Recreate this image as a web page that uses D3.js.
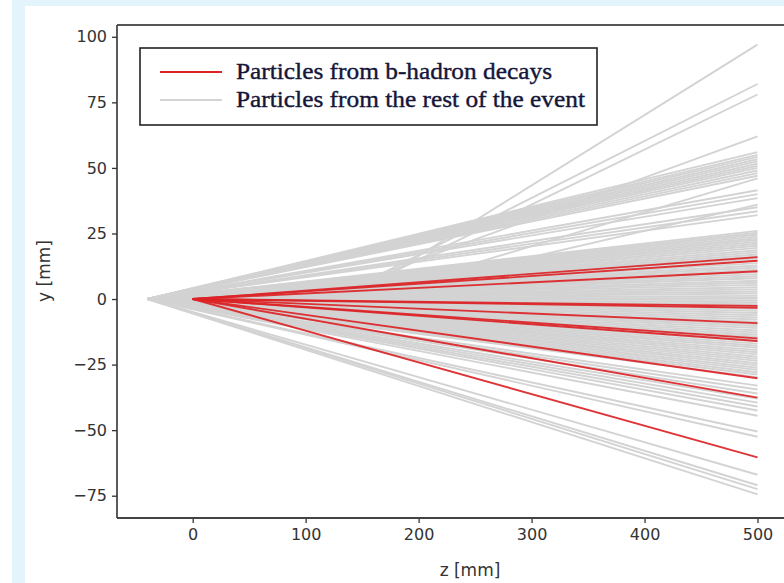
<!DOCTYPE html>
<html><head><meta charset="utf-8">
<script src="https://cdn.jsdelivr.net/npm/d3@7"></script>
<style>
html,body{margin:0;padding:0;background:#e4f4fc;}
svg{display:block;}
</style></head>
<body>
<svg id="chart" width="784" height="583"></svg>
<script>
// ---- data ----
const primaryZ = -40;          // origin of gray tracks (primary vertex)
const primaryY = 0;
const decayZ = 0;              // origin of red tracks (b-hadron decay vertex)
const decayY = 0;
const endZ = 500;              // tracks stop at z = 500 mm

// y at z=500 for gray tracks coming from the primary vertex
const grayEndY = [56, 55, 54.2, 53.3, 52.5, 51.6, 50.8, 50, 49, 48, 47,
  41.5, 40, 38.5, 35, 33.5, 32,
  26, 25.3, 24.6, 23.9, 23.2, 22.5, 21.8, 21.1, 20.3, 19.5, 18.6, 17.8, 17, 16.2, 15.4, 14.6, 13.7, 12.8, 12, 11.2,
  10.3, 9.5, 8.7, 7.9, 7, 6.2, 5.4, 4.5, 3.7, 2.9, 2.1, 1.2, 0.4, -0.4, -1.2, -2, -2.9, -3.7, -4.5, -5.3, -6.2, -7,
  -7.8, -8.6, -9.5, -10.3, -11.1, -12, -12.8, -13.6, -14.4, -15.3, -16.1, -17, -17.8, -18.6, -19.5, -20.3, -21.1,
  -22, -22.8, -23.6, -24.5, -25.3, -26.2, -27, -27.9, -28.8, -29.8,
  -33, -34.5, -36, -38, -39.5, -41, -42.5, -44.5, -50.5, -52.5, -67, -71, -72.5, -74.5];

// gray tracks from other vertices: start z, start y, y at z=500
const extraStartZ = [146, 132, 138, 112, 175, 200];
const extraStartY = [2, 2, 2, 1, 4, 6];
const extraEndY   = [97, 82, 78, 62, 46, 36];

// y at z=500 for red tracks from the b-hadron decay vertex
const redEndY = [16, 14.6, 10.6, -2.6, -3.3, -9.2, -15, -16, -30.2, -37.6, -60.4];

const xTicks = [0, 100, 200, 300, 400, 500];
const yTicks = [-75, -50, -25, 0, 25, 50, 75, 100];
const legendLabels = ["Particles from b-hadron decays", "Particles from the rest of the event"];
const xTitle = "z [mm]";
const yTitle = "y [mm]";

// ---- drawing ----
const svg = d3.select("#chart");
svg.append("rect").attr("x", 0).attr("y", 0).attr("width", 12).attr("height", 583).attr("fill", "#ffffff");
svg.append("rect").attr("x", 25).attr("y", 6).attr("width", 760).attr("height", 580).attr("fill", "#ffffff");

const L = 117, R = 788, T = 25, B = 518;
const x = d3.scaleLinear().domain([-67, 527]).range([L, R]);
const y = d3.scaleLinear().domain([-83.5, 104.5]).range([B, T]);

svg.append("clipPath").attr("id", "plotclip").append("rect")
  .attr("x", L).attr("y", T).attr("width", R - L).attr("height", B - T);

const line = d3.line().x(d => x(d[0])).y(d => y(d[1]));
const g = svg.append("g").attr("clip-path", "url(#plotclip)");

const grayTracks = grayEndY.map(e => [[primaryZ, primaryY], [endZ, e]])
  .concat(extraStartZ.map((z, i) => [[z, extraStartY[i]], [endZ, extraEndY[i]]]));
g.selectAll("path.gray").data(grayTracks).join("path")
  .attr("class", "gray").attr("d", line)
  .attr("fill", "none").attr("stroke", "#d3d3d3").attr("stroke-width", 1.9);

const redTracks = redEndY.map(e => [[decayZ, decayY], [endZ, e]]);
g.selectAll("path.red").data(redTracks).join("path")
  .attr("class", "red").attr("d", line)
  .attr("fill", "none").attr("stroke", "#dc2326").attr("stroke-width", 1.9).attr("stroke-opacity", 0.92);

// axes
const fontAx = "'DejaVu Sans', sans-serif";
const xAxis = svg.append("g").attr("transform", `translate(0,${B})`)
  .call(d3.axisBottom(x).tickValues(xTicks).tickSize(5).tickPadding(6).tickFormat(d3.format("d")));
const yAxis = svg.append("g").attr("transform", `translate(${L},0)`)
  .call(d3.axisLeft(y).tickValues(yTicks).tickSize(5).tickPadding(5).tickFormat(d => d < 0 ? "\u2212" + Math.abs(d) : d));
[xAxis, yAxis].forEach(a => {
  a.select(".domain").remove();
  a.selectAll(".tick line").attr("stroke", "#333").attr("stroke-width", 1.3);
  a.selectAll(".tick text").attr("fill", "#333").style("font-family", fontAx).style("font-size", "16px");
});

// spines
svg.append("line").attr("x1", L).attr("x2", R).attr("y1", B).attr("y2", B).attr("stroke", "#444").attr("stroke-width", 2.2);
svg.append("line").attr("x1", L).attr("x2", L).attr("y1", T).attr("y2", B).attr("stroke", "#333").attr("stroke-width", 1.6);
svg.append("line").attr("x1", L).attr("x2", R).attr("y1", T).attr("y2", T).attr("stroke", "#555").attr("stroke-width", 1.8);

// axis titles
svg.append("text").attr("x", 470).attr("y", 576).attr("text-anchor", "middle")
  .attr("fill", "#333").style("font-family", fontAx).style("font-size", "17px").text(xTitle);
svg.append("text").attr("transform", "translate(50,271) rotate(-90)").attr("text-anchor", "middle")
  .attr("fill", "#333").style("font-family", fontAx).style("font-size", "17px").text(yTitle);

// legend
const lg = svg.append("g");
lg.append("rect").attr("x", 140).attr("y", 48).attr("width", 457).attr("height", 77)
  .attr("fill", "#fff").attr("stroke", "#222").attr("stroke-width", 1.6);
const legColors = ["#dc2326", "#d3d3d3"];
const legRight = [552, 585];
legendLabels.forEach((t, i) => {
  const yy = 72 + i * 28;
  lg.append("line").attr("x1", 160).attr("x2", 222).attr("y1", yy).attr("y2", yy)
    .attr("stroke", legColors[i]).attr("stroke-width", 2.2);
  lg.append("text").attr("x", 236).attr("y", yy + 7)
    .attr("textLength", legRight[i] - 236).attr("lengthAdjust", "spacingAndGlyphs")
    .attr("fill", "#15163a").attr("stroke", "#15163a").attr("stroke-width", 0.4)
    .style("font-family", "'Liberation Serif', 'Times New Roman', Times, serif")
    .style("font-size", "24px").text(t);
});
</script>
</body></html>
